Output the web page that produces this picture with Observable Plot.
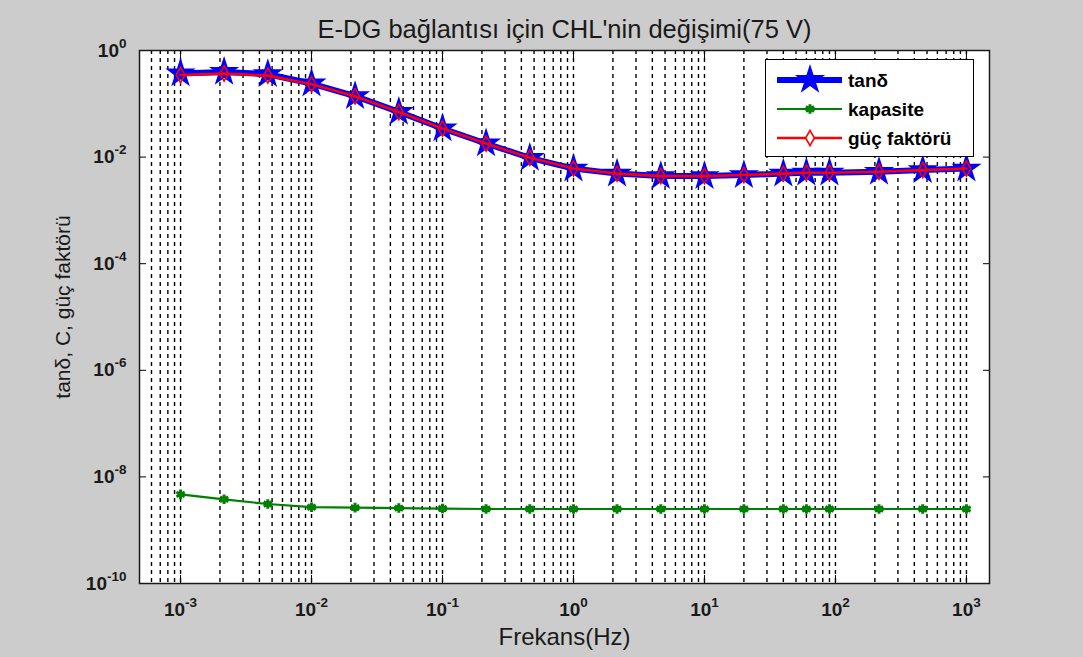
<!DOCTYPE html>
<html>
<head>
<meta charset="utf-8">
<script src="https://cdn.jsdelivr.net/npm/d3@7"></script>
<script src="https://cdn.jsdelivr.net/npm/@observablehq/plot@0.6"></script>
<style>
  html, body { margin: 0; padding: 0; background: #cccccc; }
  #wrap { position: relative; width: 1083px; height: 657px; overflow: hidden; background: #cccccc; }
  #legend { position: absolute; left: 765px; top: 59px; }
  svg text { font-family: "Liberation Sans", Arial, sans-serif; }
</style>
</head>
<body>
<div id="wrap"></div>
<script>
// ---- data ----
const freq = [0.001, 0.00215, 0.00464, 0.01, 0.0215, 0.0464, 0.1, 0.215, 0.464, 1,
              2.15, 4.64, 10, 20, 40, 60, 90, 215, 464, 1000];
const tanDelta = [0.370, 0.397, 0.359, 0.240, 0.139, 0.0705, 0.0344, 0.018, 0.0097, 0.0061,
                  0.0049, 0.0044, 0.0044, 0.0046, 0.0049, 0.0051, 0.0051, 0.0053, 0.0057, 0.0061];
const powerFactor = [0.347, 0.369, 0.338, 0.233, 0.138, 0.0703, 0.0344, 0.018, 0.0097, 0.0061,
                     0.0049, 0.0044, 0.0044, 0.0046, 0.0049, 0.0051, 0.0051, 0.0053, 0.0057, 0.0061];
const capacitance = [4.7e-9, 3.8e-9, 3.1e-9, 2.7e-9, 2.65e-9, 2.6e-9, 2.55e-9, 2.5e-9, 2.5e-9, 2.5e-9,
                     2.5e-9, 2.5e-9, 2.5e-9, 2.5e-9, 2.5e-9, 2.5e-9, 2.5e-9, 2.5e-9, 2.5e-9, 2.5e-9];
const seriesNames = ["tanδ", "kapasite", "güç faktörü"];
const xMajorTicks = [1e-3, 1e-2, 1e-1, 1, 10, 100, 1000];
const yMajorTicks = [1e-10, 1e-8, 1e-6, 1e-4, 1e-2, 1];
const xMinorFactors = [1, 2, 3, 4, 5, 6, 7, 8, 9];
const titleText = "E-DG bağlantısı için CHL'nin değişimi(75 V)";
const xLabelText = "Frekans(Hz)";
const yLabelText = "tanδ, C, güç faktörü";

// ---- tables ----
const tanRows = freq.map((f, i) => ({f, v: tanDelta[i]}));
const capRows = freq.map((f, i) => ({f, v: capacitance[i]}));
const pfRows  = freq.map((f, i) => ({f, v: powerFactor[i]}));
const xDomain = [4.86e-4, 1500];
const xGrid = [];
for (const m of [1e-4, ...xMajorTicks]) for (const k of xMinorFactors) {
  const v = +(m * k).toPrecision(6);
  if (v >= 6e-4 && v <= xDomain[1]) xGrid.push(v);
}
const expFmt = d => "10^" + Math.round(Math.log10(d));
const FONT = "Liberation Sans, Arial, sans-serif";

const chart = Plot.plot({
  width: 1083,
  height: 657,
  marginLeft: 139,
  marginRight: 94,
  marginTop: 50,
  marginBottom: 74,
  style: {background: "transparent", fontFamily: FONT, overflow: "visible"},
  x: {type: "log", domain: xDomain, label: null},
  y: {type: "log", domain: [1e-10, 1], label: null},
  marks: [
    Plot.frame({fill: "white"}),
    Plot.gridX({ticks: xGrid, stroke: "black", strokeOpacity: 1, strokeWidth: 1.4, strokeDasharray: "4,4"}),
    // inward ticks
    Plot.axisX({ticks: xMajorTicks, anchor: "bottom", tickSize: -8, tickFormat: () => "", label: null, stroke: "black", strokeWidth: 1}),
    Plot.axisX({ticks: xMajorTicks, anchor: "top", tickSize: -8, tickFormat: () => "", label: null, stroke: "black", strokeWidth: 1}),
    Plot.axisY({ticks: yMajorTicks, anchor: "left", tickSize: -7, tickFormat: () => "", label: null, stroke: "black", strokeWidth: 1}),
    Plot.axisY({ticks: yMajorTicks, anchor: "right", tickSize: -7, tickFormat: () => "", label: null, stroke: "black", strokeWidth: 1}),
    // tick labels
    Plot.axisX({ticks: xMajorTicks, anchor: "bottom", tickSize: 0, tickPadding: 19, tickFormat: expFmt, label: null,
                fontSize: 19, fontWeight: "bold", fill: "#1a1a1a"}),
    Plot.axisY({ticks: yMajorTicks, anchor: "left", tickSize: 0, tickPadding: 13, tickFormat: expFmt, label: null,
                fontSize: 19, fontWeight: "bold", fill: "#1a1a1a"}),
    // series
    Plot.line(tanRows, {x: "f", y: "v", stroke: "#0000ff", strokeWidth: 6}),
    Plot.dot(tanRows, {x: "f", y: "v", symbol: "star", fill: "#0000ff", r: 9.5}),
    Plot.line(capRows, {x: "f", y: "v", stroke: "#008000", strokeWidth: 2.2}),
    Plot.dot(capRows, {x: "f", y: "v", symbol: "asterisk", stroke: "#008000", strokeWidth: 3, r: 4.5}),
    Plot.line(pfRows, {x: "f", y: "v", stroke: "#ff0000", strokeWidth: 2.6}),
    Plot.dot(pfRows, {x: "f", y: "v", symbol: "diamond", stroke: "#ff0000", fill: "none", strokeWidth: 1.6, r: 4.6}),
    Plot.frame({stroke: "#1a1a1a", strokeWidth: 1.5}),
    // texts
    Plot.text([titleText], {frameAnchor: "top", dy: -31, fontSize: 25.5, fill: "#1a1a1a"}),
    Plot.text([xLabelText], {frameAnchor: "bottom", dy: 61, fontSize: 24, fill: "#1a1a1a"}),
    Plot.text([yLabelText], {frameAnchor: "left", textAnchor: "middle", dx: -76, dy: -10, rotate: -90, fontSize: 21, fill: "#1a1a1a"})
  ]
});

// superscript exponents on tick labels
const NS = "http://www.w3.org/2000/svg";
chart.querySelectorAll('g[aria-label="x-axis tick label"] text, g[aria-label="y-axis tick label"] text').forEach(t => {
  const m = (t.textContent || "").match(/^10\^(-?\d+)$/);
  if (!m) return;
  t.textContent = "";
  t.style.fontSize = "19px";
  t.style.fontWeight = "bold";
  const a = document.createElementNS(NS, "tspan");
  a.textContent = "10";
  const b = document.createElementNS(NS, "tspan");
  b.setAttribute("dy", "-9");
  b.style.fontSize = "13.5px";
  b.textContent = m[1];
  t.appendChild(a);
  t.appendChild(b);
});

document.getElementById("wrap").appendChild(chart);

// ---- legend (inside the axes, top right) ----
const lg = d3.select("#wrap").append("svg")
  .attr("id", "legend").attr("width", 210).attr("height", 99);
lg.append("rect").attr("x", 0.5).attr("y", 0.5).attr("width", 208).attr("height", 97)
  .attr("fill", "white").attr("stroke", "black").attr("stroke-width", 1);
const rowsY = [21, 50, 79];
const sw = {x1: 12, x2: 77, xm: 45};
// tanδ
lg.append("line").attr("x1", sw.x1).attr("x2", sw.x2).attr("y1", rowsY[0]).attr("y2", rowsY[0])
  .attr("stroke", "#0000ff").attr("stroke-width", 6);
lg.append("path").attr("d", d3.symbol(d3.symbolStar, Math.PI * 9.5 * 9.5)())
  .attr("transform", `translate(${sw.xm},${rowsY[0]})`).attr("fill", "#0000ff");
// kapasite
lg.append("line").attr("x1", sw.x1).attr("x2", sw.x2).attr("y1", rowsY[1]).attr("y2", rowsY[1])
  .attr("stroke", "#008000").attr("stroke-width", 2.2);
lg.append("path").attr("d", d3.symbol(d3.symbolAsterisk || d3.symbolCross, Math.PI * 4.5 * 4.5)())
  .attr("transform", `translate(${sw.xm},${rowsY[1]})`).attr("stroke", "#008000").attr("stroke-width", 3).attr("fill", "#008000");
// güç faktörü
lg.append("line").attr("x1", sw.x1).attr("x2", sw.x2).attr("y1", rowsY[2]).attr("y2", rowsY[2])
  .attr("stroke", "#ff0000").attr("stroke-width", 2.6);
lg.append("path").attr("d", d3.symbol(d3.symbolDiamond, Math.PI * 4.6 * 4.6)())
  .attr("transform", `translate(${sw.xm},${rowsY[2]})`).attr("stroke", "#ff0000").attr("stroke-width", 1.6).attr("fill", "white");
lg.selectAll("text.lab").data(seriesNames).join("text")
  .attr("x", 83).attr("y", (d, i) => rowsY[i]).attr("dy", "0.35em")
  .attr("font-size", 19).attr("font-weight", "bold").attr("fill", "black")
  .text(d => d);
</script>
</body>
</html>
